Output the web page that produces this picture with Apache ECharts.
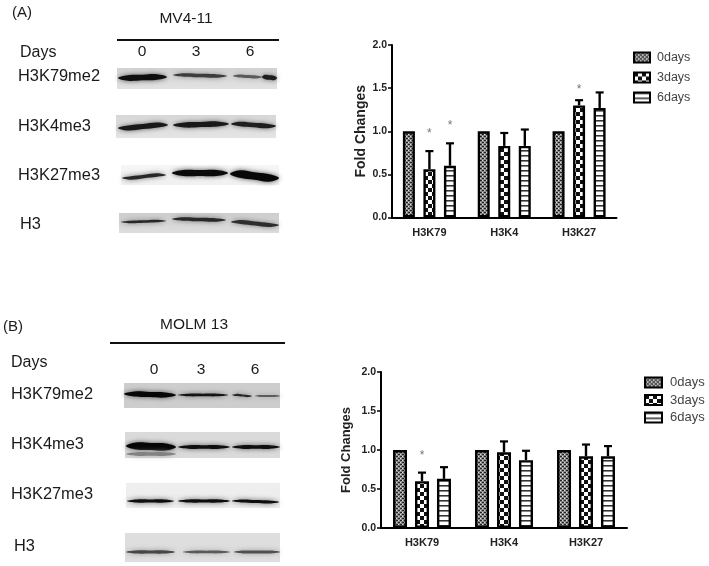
<!DOCTYPE html>
<html><head><meta charset="utf-8">
<style>html,body{margin:0;padding:0;background:#fff}#c{width:709px;height:566px}</style>
<script src="https://cdn.jsdelivr.net/npm/echarts@6/dist/echarts.min.js"></script>
</head><body><div id="c"></div>
<script>
const categories = ['H3K79','H3K4','H3K27'];
const seriesNames = ['0days','3days','6days'];
const yTicks = [0,0.5,1,1.5,2];

const a0days = [1,1,1];
const a3days = [0.56,0.83,1.30];
const a6days = [0.60,0.83,1.27];
const a3daysErrTop = [0.77,0.98,1.36];
const a6daysErrTop = [0.86,1.02,1.45];
const aStars = [[0,1,1.0],[0,2,1.09],[2,1,1.51]];

const b0days = [1,1,1];
const b3days = [0.60,0.97,0.92];
const b6days = [0.63,0.87,0.92];
const b3daysErrTop = [0.71,1.11,1.07];
const b6daysErrTop = [0.78,0.99,1.05];
const bStars = [[0,1,0.95]];

const panelTexts = [
  ['(A)',12,13,15,'left'],['MV4-11',186,19,15.5,'center'],['Days',20,53,16,'left'],
  ['0',142,52,15.5,'center'],['3',196,52,15.5,'center'],['6',250,52,15.5,'center'],
  ['H3K79me2',18,76,16.4,'left'],['H3K4me3',18,126,16.4,'left'],['H3K27me3',18,175,16.4,'left'],['H3',20,224,16.4,'left'],
  ['(B)',3,327,15,'left'],['MOLM 13',194,325,15.5,'center'],['Days',11,363,16,'left'],
  ['0',154,370,15.5,'center'],['3',201,370,15.5,'center'],['6',255,370,15.5,'center'],
  ['H3K79me2',11,394,16.4,'left'],['H3K4me3',11,444,16.4,'left'],['H3K27me3',11,494,16.4,'left'],['H3',14,546,16.4,'left']
];

function pat(size,draw){
  const c=document.createElement('canvas');c.width=c.height=size;
  const x=c.getContext('2d');x.fillStyle='#fff';x.fillRect(0,0,size,size);x.fillStyle='#111';draw(x);return {image:c,repeat:'repeat'};
}
const patterns = [
  pat(4,x=>{x.fillStyle='#8a8a8a';x.fillRect(0,0,4,4);x.fillStyle='#222';x.fillRect(0,0,2,1);x.fillRect(2,2,2,1);x.fillStyle='#ddd';x.fillRect(2,0,1,1);x.fillRect(0,2,1,1);}),
  pat(8,x=>{x.fillRect(0,0,4,4);x.fillRect(4,4,4,4);}),
  pat(5,x=>{x.fillStyle='#888';x.fillRect(0,0,5,2);x.fillStyle='#333';x.fillRect(0,0,5,1);})
];

function grey(v){return 'rgb('+v+','+v+','+v+')';}
// blot: [x,y,w,h,bgTop,bgBottom], bands: [x0,x1,yLeft,yRight,thickness,shade]
const blots = [
 {r:[117,68,160,21,210,226],b:[[118,167,78,77,5.5,15],[173,227,75,76,3.5,60],[233,262,76,77,3,90],[262,277,77,78,4.5,30]]},
 {r:[116,115,160,23,215,228],b:[[118,168,128,125,5,25],[173,229,125,124,5,25],[231,276,124,126,4.5,30]]},
 {r:[121,165,158,20,246,240],b:[[122,166,178,175,3.5,40],[172,228,173,173,6,10],[230,279,174,178,7.5,8]]},
 {r:[119,213,160,20,205,222],b:[[121,166,222,221,2.5,40],[172,226,219,220,3.5,40],[231,279,222,225,4,45]]},
 {r:[124,383,156,25,205,205],b:[[124,176,394,395,5,5],[178,228,395,395,2.5,20],[232,252,395,396,2.2,40],[255,280,396,396,1.5,60]]},
 {r:[125,432,155,26,218,218],b:[[126,176,446,447,7,5],[126,176,454,454,3.5,130],[178,230,447,447,3.5,15],[232,280,447,447,3.5,15]]},
 {r:[126,483,154,25,238,238],b:[[127,174,501,501,3.2,15],[178,230,501,501,3,15],[232,279,501,502,3,15]]},
 {r:[125,533,155,29,222,222],b:[[126,175,552,552,3,70],[183,230,552,552,2.5,90],[234,280,552,552,2.8,80]]}
];

const graphics = [];
blots.forEach(bl=>{
  const [x,y,w,h,t,bm]=bl.r;
  graphics.push({type:'rect',silent:true,z:1,shape:{x,y,width:w,height:h},
    style:{fill:new echarts.graphic.LinearGradient(0,0,0,1,[{offset:0,color:grey(t)},{offset:0.5,color:grey(Math.round((t+bm)/2))},{offset:1,color:grey(bm)}])}});
  bl.b.forEach(([x0,x1,y0,y1,th,s])=>{
    const xm=(x0+x1)/2,ym=(y0+y1)/2,c=grey(s);
    graphics.push({type:'polygon',silent:true,z:2,
      shape:{smooth:0.4,points:[[x0,y0],[x0+(x1-x0)*0.2,y0-th/2],[xm,ym-th/2],[x1-(x1-x0)*0.2,y1-th/2],[x1,y1],[x1-(x1-x0)*0.2,y1+th/2],[xm,ym+th/2],[x0+(x1-x0)*0.2,y0+th/2]]},
      style:{fill:c,shadowBlur:5,shadowColor:grey(Math.min(s+70,170))}});
  });
});
[[117,279,40],[110,285,343]].forEach(([a,b,y])=>graphics.push({type:'line',silent:true,z:3,
  shape:{x1:a,x2:b,y1:y,y2:y},style:{stroke:'#111',lineWidth:2}}));
panelTexts.forEach(([t,x,y,fs,al])=>graphics.push({type:'text',silent:true,z:3,x,y,
  style:{text:t,fontFamily:'Liberation Sans',fontSize:fs,fill:'#1a1a1a',align:al,verticalAlign:'middle'}}));

function errSeries(name,idx,vals,tops,pitch,ai,cap){
  return {name,type:'custom',xAxisIndex:ai,yAxisIndex:ai,silent:true,z:3,
    data:categories.map((c,i)=>[i,vals[i],tops[i]]),
    renderItem:(p,api)=>{
      const band=api.size([1,0])[0],off=(idx-1)*band*pitch;
      const b=api.coord([api.value(0),api.value(1)]),t=api.coord([api.value(0),api.value(2)]);
      const X=b[0]+off;
      return {type:'group',children:[
        {type:'line',shape:{x1:X,x2:X,y1:b[1],y2:t[1]},style:{stroke:'#000',lineWidth:2.4}},
        {type:'line',shape:{x1:X-cap,x2:X+cap,y1:t[1],y2:t[1]},style:{stroke:'#000',lineWidth:2.2}}
      ]};
    }};
}
function starSeries(name,stars,pitch,ai){
  return {name,type:'custom',xAxisIndex:ai,yAxisIndex:ai,silent:true,z:3,data:stars,
    renderItem:(p,api)=>{
      const band=api.size([1,0])[0],off=(api.value(1)-1)*band*pitch;
      const pt=api.coord([api.value(0),api.value(2)]);
      return {type:'text',x:pt[0]+off,y:pt[1]+2,style:{text:'*',fontFamily:'Liberation Sans',fontSize:12,fill:'#777',align:'center',verticalAlign:'middle'}};
    }};
}
function bars(vals,ai,w,gap){
  return vals.map((v,i)=>({name:seriesNames[i],type:'bar',xAxisIndex:ai,yAxisIndex:ai,data:v,barWidth:w,barGap:gap,
    itemStyle:{color:patterns[i],borderColor:'#000',borderWidth:2.4},silent:true,z:2}));
}
function axes(i,nameGap,nameSize,xMargin){
  return {
    x:{type:'category',gridIndex:i,data:categories,
      axisLine:{onZero:false,lineStyle:{color:'#000',width:2}},axisTick:{show:false},
      axisLabel:{fontFamily:'Liberation Sans',fontWeight:'bold',fontSize:11,color:'#222',margin:xMargin}},
    y:{type:'value',gridIndex:i,min:0,max:2,interval:0.5,
      axisLine:{show:true,lineStyle:{color:'#000',width:2}},
      axisTick:{show:true,length:4,lineStyle:{color:'#000',width:1.5}},splitLine:{show:false},
      axisLabel:{fontFamily:'Liberation Sans',fontWeight:'bold',fontSize:10.5,color:'#222',margin:5,
        formatter:v=>yTicks.includes(v)?v.toFixed(1):''},
      name:'Fold Changes',nameLocation:'middle',nameGap,
      nameTextStyle:{fontFamily:'Liberation Sans',fontWeight:'bold',fontSize:nameSize,color:'#222'}}
  };
}
function legend(left,top,gap,size,w,pad){
  return {data:seriesNames,orient:'vertical',left,top,itemWidth:w,itemHeight:10,itemGap:gap,icon:'rect',selectedMode:false,
    textStyle:{fontFamily:'Liberation Sans',fontSize:size,color:'#444',padding:[0,0,0,pad]},padding:0};
}

const A=axes(0,23,14,9.5),B=axes(1,28,13,9);
const chart=echarts.init(document.getElementById('c'),null,{renderer:'canvas'});
chart.setOption({
  animation:false,backgroundColor:'#fff',
  grid:[{left:392,top:45,width:224.5,height:172.5,containLabel:false},{left:381,top:372,width:246,height:156}],
  xAxis:[A.x,B.x],yAxis:[A.y,B.y],
  legend:[legend(633,51,7,12.5,16,2),legend(644,376,4.5,13,17,3)],
  graphic:graphics,
  series:[
    ...bars([a0days,a3days,a6days],0,12,'71%'),
    errSeries('err3a',1,a3days,a3daysErrTop,0.275,0,4),
    errSeries('err6a',2,a6days,a6daysErrTop,0.275,0,4),
    starSeries('starsA',aStars,0.275,0),
    ...bars([b0days,b3days,b6days],1,14,'57%'),
    errSeries('err3b',1,b3days,b3daysErrTop,0.268,1,4),
    errSeries('err6b',2,b6days,b6daysErrTop,0.268,1,4),
    starSeries('starsB',bStars,0.268,1)
  ]
});
</script></body></html>
